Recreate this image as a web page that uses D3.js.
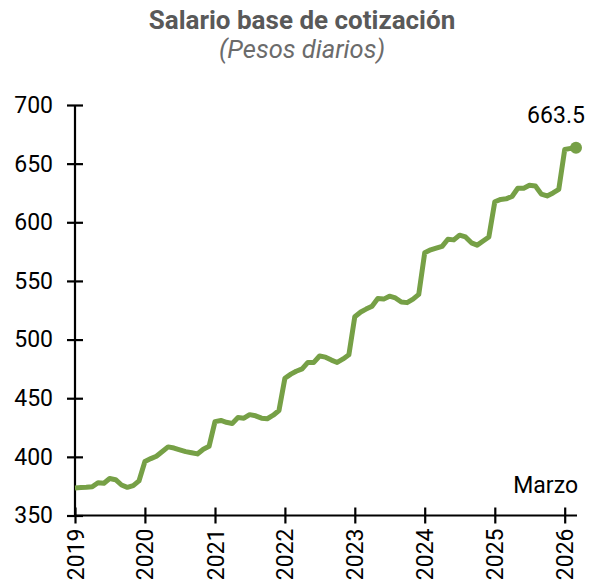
<!doctype html>
<html>
<head>
<meta charset="utf-8">
<title>Salario base de cotización</title>
<script src="https://d3js.org/d3.v7.min.js"></script>
<style>
  html, body { margin: 0; padding: 0; background: #fff; }
  svg { display: block; font-family: Roboto, "Noto Sans", sans-serif; }
</style>
</head>
<body>
<div id="chart"></div>
<script>
// monthly values, enero 2019 - marzo 2026
var startMonth = new Date(2019, 0, 1);
var salario = [
  373.5, 373.8, 374.0, 374.5, 378.0, 377.5, 381.5, 380.5, 376.0, 374.0, 375.5, 379.5,   // 2019
  396.0, 398.5, 400.5, 404.5, 408.5, 407.5, 406.0, 404.5, 403.5, 402.5, 406.5, 409.0,   // 2020
  430.0, 431.0, 429.5, 428.5, 433.5, 433.0, 436.0, 435.0, 433.0, 432.5, 435.5, 439.5,   // 2021
  467.0, 470.5, 473.0, 475.0, 480.5, 480.5, 486.0, 485.0, 482.5, 480.5, 483.5, 487.0,   // 2022
  519.5, 523.5, 526.0, 528.5, 535.0, 534.5, 537.0, 535.5, 532.0, 531.5, 534.5, 538.5,   // 2023
  574.0, 576.5, 578.0, 579.5, 585.5, 585.0, 589.0, 587.5, 582.5, 580.5, 584.0, 587.5,   // 2024
  617.5, 619.5, 620.0, 622.0, 629.0, 629.0, 631.5, 631.0, 624.0, 622.5, 625.0, 628.0,   // 2025
  662.0, 663.0, 663.5                                                                   // 2026
];
var yearTicks = [2019, 2020, 2021, 2022, 2023, 2024, 2025, 2026];
var yTicks = [350, 400, 450, 500, 550, 600, 650, 700];
var lastLabel = "663.5";
var mesLabel = "Marzo";

var data = salario.map(function(v, i){
  return { date: new Date(2019, i, 1), value: v };
});

var W = 594, H = 588;
var svg = d3.select('#chart').append('svg')
  .attr('width', W).attr('height', H);

var x = d3.scaleTime()
  .domain([startMonth, data[data.length - 1].date])
  .range([75, 576]);
var y = d3.scaleLinear().domain([350, 700]).range([515.5, 105]);

// title
svg.append('text')
  .attr('x', 302).attr('y', 29)
  .attr('text-anchor', 'middle')
  .attr('font-size', 26).attr('font-weight', 'bold')
  .attr('fill', '#595959')
  .text('Salario base de cotización');
svg.append('text')
  .attr('x', 302).attr('y', 58)
  .attr('text-anchor', 'middle')
  .attr('font-size', 25.5).attr('font-style', 'italic')
  .attr('fill', '#6b6b6b')
  .text('(Pesos diarios)');

// y axis
var yAxis = svg.append('g')
  .attr('transform', 'translate(75,0)')
  .call(d3.axisLeft(y).tickValues(yTicks).tickSize(8).tickPadding(14));
yAxis.selectAll('.tick line').attr('x2', 8).attr('x1', -8);

// x axis
var xAxis = svg.append('g')
  .attr('transform', 'translate(0,' + y(350) + ')')
  .call(d3.axisBottom(x)
    .tickValues(yearTicks.map(function(yr){ return new Date(yr, 0, 1); }))
    .tickFormat(d3.timeFormat('%Y'))
    .tickSize(8));
xAxis.selectAll('.tick line').attr('y1', -8).attr('y2', 8);
xAxis.selectAll('.tick text')
  .attr('transform', 'rotate(-90)')
  .attr('text-anchor', 'end')
  .attr('x', -13).attr('y', 0).attr('dy', '0.35em');

[yAxis, xAxis].forEach(function(g){
  g.select('.domain').attr('stroke', '#000').attr('stroke-width', 2.2);
  g.selectAll('.tick line').attr('stroke', '#000').attr('stroke-width', 2.2);
  g.selectAll('.tick text').attr('font-size', 23).attr('fill', '#000')
    .attr('font-family', 'Roboto, sans-serif');
});
xAxis.select('.domain').attr('d', 'M75,0H' + (x(data[data.length - 1].date) + 1));
yAxis.select('.domain').attr('d', 'M0,' + y(700) + 'V' + (y(350) + 1));

// line
var line = d3.line()
  .x(function(d){ return x(d.date); })
  .y(function(d){ return y(d.value); });

svg.append('path')
  .datum(data)
  .attr('fill', 'none')
  .attr('stroke', '#76a046')
  .attr('stroke-width', 5)
  .attr('stroke-linejoin', 'round')
  .attr('d', line);

var last = data[data.length - 1];
svg.append('circle')
  .attr('cx', x(last.date)).attr('cy', y(last.value))
  .attr('r', 6)
  .attr('fill', '#76a046');

svg.append('text')
  .attr('x', x(last.date) - 20).attr('y', y(last.value) - 25)
  .attr('text-anchor', 'middle')
  .attr('font-size', 23).attr('fill', '#000')
  .text(lastLabel);

svg.append('text')
  .attr('x', 578).attr('y', 493)
  .attr('text-anchor', 'end')
  .attr('font-size', 23).attr('fill', '#000')
  .text(mesLabel);
</script>
</body>
</html>
